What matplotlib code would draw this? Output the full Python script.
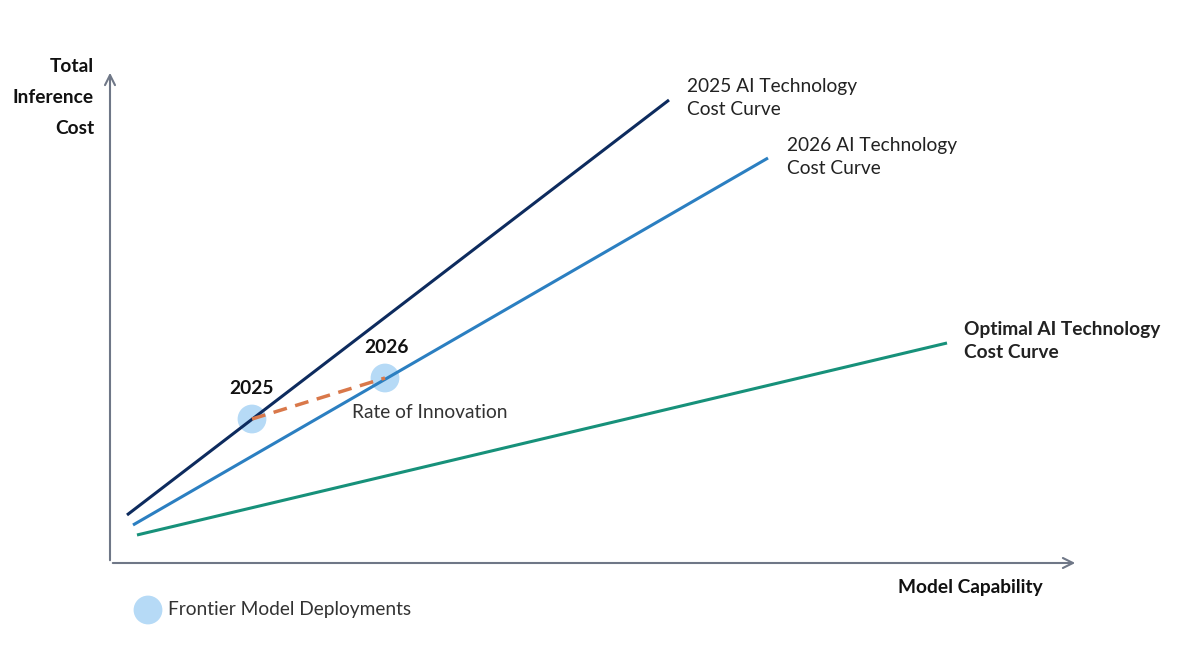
import matplotlib.pyplot as plt

plt.rcParams['font.family'] = ['Lato', 'DejaVu Sans']

# данные (условные единицы: возможности модели / стоимость инференса)
curve_names = ['2025 AI Technology\nCost Curve', '2026 AI Technology\nCost Curve',
               'Optimal AI Technology\nCost Curve']
curve_x = [[1.7, 55.9], [2.3, 65.8], [2.7, 83.7]]
curve_y = [[4.8, 46.3], [3.8, 40.5], [2.8, 22.0]]
curve_colors = ['#0d2b5e', '#2b7fc1', '#17917a']
curve_bold = [False, False, True]

deploy_years = ['2025', '2026']
deploy_x = [14.2, 27.5]
deploy_y = [14.4, 18.5]

fig = plt.figure(figsize=(11.8, 6.64), dpi=100)
ax = fig.add_axes([0, 0, 1, 1])
ax.set_xlim(-11, 107)
ax.set_ylim(-10.1, 56.3)
ax.axis('off')

# оси со стрелками
axis_color = '#6f7787'
ax.annotate('', xy=(0, 49.3), xytext=(0, 0),
            arrowprops=dict(arrowstyle='->', color=axis_color, lw=1.5,
                            mutation_scale=18))
ax.annotate('', xy=(96.8, 0), xytext=(0, 0),
            arrowprops=dict(arrowstyle='->', color=axis_color, lw=1.5,
                            mutation_scale=18))

# кривые стоимости
for xs, ys, c in zip(curve_x, curve_y, curve_colors):
    ax.plot(xs, ys, color=c, lw=2.2, solid_capstyle='butt', zorder=3)

# подписи кривых
label_pos = [(57.7, 48.5), (67.7, 42.6), (85.4, 24.2)]
for name, (lx, ly), b in zip(curve_names, label_pos, curve_bold):
    ax.text(lx, ly, name, fontsize=13.8, color='#222222', va='top', ha='left',
            fontweight='bold' if b else 'normal', linespacing=1.45)

# точки развертываний и линия инноваций
ax.scatter(deploy_x, deploy_y, s=430, color='#a9d4f5', alpha=0.85,
           edgecolors='none', zorder=2)
ax.plot(deploy_x, deploy_y, color='#d9784a', lw=2.5, ls=(0, (4, 2.5)), zorder=4)
ax.text(deploy_x[0], deploy_y[0] + 2.2, deploy_years[0], fontsize=13.8,
        fontweight='bold', ha='center', va='bottom', color='#111111')
ax.text(deploy_x[1] + 0.1, deploy_y[1] + 2.2, deploy_years[1], fontsize=13.8,
        fontweight='bold', ha='center', va='bottom', color='#111111')
ax.text(24.2, 15.1, 'Rate of Innovation', fontsize=13.8, color='#333333',
        ha='left', va='center')

# подписи осей
for i, word in enumerate(['Total', 'Inference', 'Cost']):
    ax.text(-1.6, 49.6 - i * 3.08, word, fontsize=13.8, fontweight='bold',
            ha='right', va='center', color='#111111')
ax.text(93.3, -2.5, 'Model Capability', fontsize=13.8, fontweight='bold',
        ha='right', va='center', color='#111111')

# легенда
ax.scatter([3.8], [-4.7], s=430, color='#a9d4f5', alpha=0.85, edgecolors='none')
ax.text(5.8, -4.7, 'Frontier Model Deployments', fontsize=13.8, color='#333333',
        ha='left', va='center')

plt.savefig('out.png', dpi=100)
